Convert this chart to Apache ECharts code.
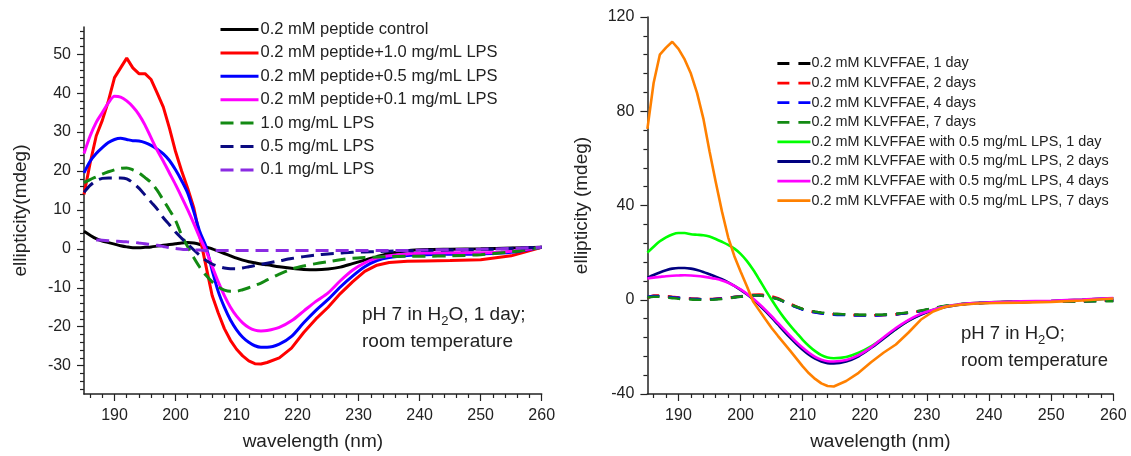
<!DOCTYPE html>
<html>
<head>
<meta charset="utf-8">
<script src="https://cdn.jsdelivr.net/npm/echarts@6/dist/echarts.min.js"></script>
<style>html,body{margin:0;padding:0;background:#fff}#c{width:1131px;height:456px}</style>
</head>
<body>
<div id="c"></div>
<script>
// ---------- DATA ----------
var wavelengths = [185,186,187,188,189,190,191,192,193,194,195,196,197,198,199,200,201,202,203,204,205,206,207,208,209,210,211,212,213,214,215,217,219,221,223,225,227,229,231,233,235,238,241,245,250,255,260];

// Left panel (1 day)
var leftNames = ['0.2 mM peptide control','0.2 mM peptide+1.0 mg/mL LPS','0.2 mM peptide+0.5 mg/mL LPS','0.2 mM peptide+0.1 mg/mL LPS','1.0 mg/mL LPS','0.5 mg/mL LPS','0.1 mg/mL LPS'];
var peptideControl = [4.5,3.5,2.6,2.0,1.6,1.2,0.8,0.5,0.3,0.3,0.4,0.5,0.7,0.9,1.1,1.3,1.5,1.6,1.5,1.1,0.5,0.0,-0.6,-1.2,-1.8,-2.4,-2.9,-3.3,-3.6,-3.9,-4.1,-4.6,-5.0,-5.3,-5.4,-5.2,-4.7,-3.8,-2.9,-2.0,-1.2,-0.5,-0.2,-0.1,0.0,0.2,0.4];
var peptideLPS10 = [14,22,29,33,38,44,46.5,49,46.5,45,45,43.5,40,36.4,31,25,20,15.5,10.5,3,-4.5,-12,-16.5,-20.5,-23.5,-25.8,-27.5,-28.8,-29.5,-29.6,-29.2,-28,-25.5,-21.5,-18,-15,-11.5,-8.5,-5.8,-4.2,-3.5,-3.2,-3.1,-3.0,-2.8,-1.8,0.4];
var peptideLPS05 = [19.5,22.5,24.5,26,27.3,28.1,28.4,28.1,27.8,27.7,27.3,26.6,25.6,24.4,22.7,20.3,17.5,14.3,9.5,4.3,0.5,-5.5,-11,-15,-18.3,-20.8,-22.7,-24,-24.9,-25.3,-25.3,-24.5,-22.5,-19,-15.8,-13,-9.8,-7,-4.6,-3,-2.2,-1.7,-1.5,-1.4,-1.3,-0.9,0.4];
var peptideLPS01 = [24.5,29,32.5,35,37.5,39.2,39,38,36.5,34.5,31.8,28.5,25.3,22.5,19.5,16.5,13.3,10,6.5,2.8,-0.5,-4.5,-8.5,-12,-15,-17.3,-19,-20.2,-20.9,-21.1,-21,-20.2,-18.5,-16,-13.5,-11.3,-8.2,-5.5,-3.6,-2.4,-1.8,-1.3,-1.1,-1.0,-1.0,-0.6,0.4];
var lps10 = [17,17.8,18.5,19.2,19.8,20.3,20.7,20.8,20.3,19.5,18.3,17,15,12.5,10,7.3,3.5,0.5,-2.3,-4.8,-6.8,-8.5,-9.8,-10.6,-10.9,-10.9,-10.5,-10,-9.4,-8.8,-8,-6.5,-5.2,-4.4,-3.8,-3.3,-2.8,-2.4,-2.2,-2.1,-2.0,-1.9,-1.9,-1.8,-1.5,-0.8,0.4];
var lps05 = [14.5,16.3,17.5,18.1,18.2,18.2,18.2,18,17,15.6,13.8,12,10.2,8,6.2,4.3,2.7,1.2,-0.3,-1.7,-3,-3.9,-4.5,-4.9,-5.1,-5.1,-4.9,-4.6,-4.3,-4,-3.7,-3.1,-2.5,-2,-1.6,-1.3,-1.1,-0.9,-0.8,-0.7,-0.6,-0.5,-0.4,-0.3,-0.2,0.1,0.4];
var lps01 = [null,null,2.3,2.2,2.1,2.0,1.9,1.8,1.7,1.5,1.3,1.1,0.9,0.6,0.3,0.1,-0.1,-0.2,-0.3,-0.3,-0.4,-0.4,-0.4,-0.4,-0.4,-0.4,-0.4,-0.4,-0.4,-0.4,-0.4,-0.4,-0.4,-0.4,-0.4,-0.4,-0.4,-0.4,-0.4,-0.4,-0.4,-0.4,-0.3,-0.2,-0.1,0.1,0.4];

// Right panel (time course)
var rightNames = ['0.2 mM KLVFFAE, 1 day','0.2 mM KLVFFAE, 2 days','0.2 mM KLVFFAE, 4 days','0.2 mM KLVFFAE, 7 days','0.2 mM KLVFFAE with 0.5 mg/mL LPS, 1 day','0.2 mM KLVFFAE with 0.5 mg/mL LPS, 2 days','0.2 mM KLVFFAE with 0.5 mg/mL LPS, 4 days','0.2 mM KLVFFAE with 0.5 mg/mL LPS, 7 days'];
var kl1 = [1.0,1.5,1.6,1.4,1.1,0.8,0.6,0.4,0.3,0.2,0.2,0.3,0.5,0.8,1.1,1.4,1.7,1.9,1.9,1.6,1.1,0.4,-0.8,-2.0,-3.1,-4.0,-4.6,-5.1,-5.5,-5.8,-6.0,-6.2,-6.4,-6.5,-6.4,-6.1,-5.5,-4.7,-3.7,-2.7,-2.0,-1.4,-1.1,-0.9,-0.8,-0.6,-0.4];
var kl2 = [0.7,1.8,1.8,1.5,1.2,0.9,0.7,0.5,0.4,0.3,0.3,0.4,0.6,0.9,1.2,1.5,1.8,2.1,2.2,2.0,1.4,0.6,-0.6,-1.8,-2.9,-3.9,-4.7,-5.3,-5.7,-6.0,-6.2,-6.4,-6.6,-6.6,-6.5,-6.2,-5.6,-4.8,-3.8,-2.8,-2.0,-1.4,-1.1,-0.9,-0.7,-0.5,-0.2];
var kl4 = [1.2,1.6,1.5,1.3,1.0,0.8,0.6,0.4,0.3,0.2,0.2,0.3,0.5,0.8,1.1,1.4,1.6,1.8,1.8,1.5,1.0,0.3,-0.9,-2.1,-3.2,-4.2,-4.9,-5.4,-5.8,-6.1,-6.3,-6.5,-6.7,-6.7,-6.5,-6.2,-5.6,-4.8,-3.8,-2.8,-2.0,-1.4,-1.1,-0.9,-0.8,-0.6,-0.4];
var kl7 = [1.0,1.3,1.3,1.0,0.7,0.4,0.2,0.1,0.0,0.0,0.0,0.1,0.3,0.6,1.0,1.3,1.6,1.8,1.8,1.5,1.0,0.3,-0.8,-2.0,-3.0,-3.9,-4.6,-5.1,-5.5,-5.8,-6.0,-6.2,-6.4,-6.4,-6.3,-6.0,-5.4,-4.6,-3.6,-2.6,-1.9,-1.4,-1.1,-0.9,-0.8,-0.7,-0.6];
var klLPS1 = [20,22.5,24.8,26.5,27.7,28.3,28.3,27.8,27.6,27.4,26.8,25.8,24.6,23.3,21.7,19.5,16.5,12.8,8.6,4.2,0,-4,-7.7,-11,-14,-17,-19.6,-21.8,-23.5,-24.5,-24.8,-24.3,-22.5,-19.8,-16.3,-12.5,-9,-6.2,-4.2,-2.8,-2.0,-1.3,-1.0,-0.8,-0.5,0.0,0.6];
var klLPS2 = [9.3,10.5,11.6,12.5,13.2,13.5,13.5,13.2,12.6,11.8,10.8,9.8,8.7,7.4,5.9,4.2,2.3,0.2,-2.2,-4.8,-7.6,-10.5,-13.4,-16.2,-18.8,-21.2,-23.3,-25,-26.2,-26.9,-27,-26.2,-24,-20.5,-16.5,-12.5,-9,-6.4,-4.5,-3.1,-2.2,-1.5,-1.1,-0.8,-0.5,0.0,0.6];
var klLPS4 = [9,9.4,9.7,10,10.2,10.3,10.4,10.3,10.1,9.8,9.4,8.9,8.2,7.2,5.9,4.4,2.6,0.5,-1.8,-4.3,-7,-9.8,-12.6,-15.3,-18,-20.4,-22.5,-24.2,-25.4,-26.1,-26.2,-25.6,-23.5,-20.2,-16,-12,-8.6,-6,-4.2,-2.9,-2.0,-1.3,-1.0,-0.7,-0.4,0.1,0.7];
var klLPS7 = [72.5,92,104,107,109.5,106.5,102,96,87.7,77,63,50,37.5,26.5,18.5,12,5.8,-0.6,-4.5,-8.3,-12,-15.3,-18.5,-21.7,-25,-28.3,-31.2,-33.6,-35.5,-36.6,-36.8,-34.5,-31,-26.5,-22.5,-19,-14,-8.5,-5,-3,-2.2,-1.6,-1.4,-1.2,-0.9,-0.3,0.5];

// Tick labels
var xTickLabels = [190,200,210,220,230,240,250,260];
var leftYTickLabels = [-30,-20,-10,0,10,20,30,40,50];
var rightYTickLabels = [-40,0,40,80,120];

// ---------- CHART ----------
function pairs(xs, ys){ var out=[]; for(var i=0;i<xs.length;i++){ out.push([xs[i], ys[i]]); } return out; }
function minorTicks(lo, hi, step, major){ var out=[]; for(var v=lo; v<=hi+1e-9; v+=step){ var r=Math.round(v*100)/100; if(major.indexOf(r)<0) out.push(r);} return out; }

var FONT = '"Liberation Sans", Arial, sans-serif';
var TXT = '#222';
var AXC = '#222';

var xMinor = minorTicks(186, 258, 2, xTickLabels);
var lyMinor = minorTicks(-36, 56, 2, leftYTickLabels);
var ryMinor = minorTicks(-32, 112, 8, rightYTickLabels);

function xAxes(grid){
  return [{
    gridIndex: grid, type: 'value', min: 185, max: 260,
    name: 'wavelength (nm)', nameLocation: 'middle', nameGap: 38,
    nameTextStyle: {fontSize: 19, color: TXT, fontFamily: FONT},
    axisLine: {onZero: false, lineStyle: {color: AXC, width: 1.5}},
    axisTick: {customValues: xTickLabels, length: 7, lineStyle: {color: AXC, width: 1.2}},
    axisLabel: {customValues: xTickLabels, fontSize: 16, color: TXT, fontFamily: FONT, margin: 14},
    splitLine: {show: false}
  },{
    gridIndex: grid, type: 'value', min: 185, max: 260, position: 'bottom',
    axisLine: {show: false, onZero: false},
    axisTick: {customValues: xMinor, length: 4, lineStyle: {color: AXC, width: 1.2}},
    axisLabel: {show: false}, splitLine: {show: false}
  }];
}
function yAxes(grid, min, max, major, minor, name, gap){
  return [{
    gridIndex: grid, type: 'value', min: min, max: max,
    name: name, nameLocation: 'middle', nameGap: gap,
    nameTextStyle: {fontSize: 19, color: TXT, fontFamily: FONT},
    axisLine: {onZero: false, lineStyle: {color: AXC, width: 1.5}},
    axisTick: {customValues: major, length: 7, lineStyle: {color: AXC, width: 1.2}},
    axisLabel: {customValues: major, fontSize: 16, color: TXT, fontFamily: FONT, margin: 13},
    splitLine: {show: false}
  },{
    gridIndex: grid, type: 'value', min: min, max: max, position: 'left',
    axisLine: {show: false, onZero: false},
    axisTick: {customValues: minor, length: 4, lineStyle: {color: AXC, width: 1.2}},
    axisLabel: {show: false}, splitLine: {show: false}
  }];
}

function line(name, ys, color, dashed, xi, smooth, width, dash){
  return {
    name: name, type: 'line', xAxisIndex: xi, yAxisIndex: xi,
    data: pairs(wavelengths, ys), symbol: 'none', showSymbol: false,
    smooth: smooth, connectNulls: false,
    lineStyle: {color: color, width: width, type: dashed ? dash : 'solid'},
    itemStyle: {color: color}, z: 3
  };
}

var leftColors = ['#000000','#ff0000','#0000ff','#ff00ff','#138a13','#0a0a80','#8a2be2'];
var leftData = [peptideControl, peptideLPS10, peptideLPS05, peptideLPS01, lps10, lps05, lps01];
var rightColors = ['#000000','#ff0000','#0000ff','#138a13','#00ff00','#000080','#ff00ff','#ff8000'];
var rightData = [kl1, kl2, kl4, kl7, klLPS1, klLPS2, klLPS4, klLPS7];

var series = [];
for (var i=0;i<leftNames.length;i++){
  series.push(line(leftNames[i], leftData[i], leftColors[i], i>=4, 0, i===1 ? false : 0.3, 3, [13,7]));
}
for (var j=0;j<rightNames.length;j++){
  series.push(line(rightNames[j], rightData[j], rightColors[j], j<4, 2, j===7 ? false : 0.3, 2.6, [12,9]));
}

var option = {
  animation: false,
  backgroundColor: '#fff',
  textStyle: {fontFamily: FONT},
  grid: [
    {left: 84, top: 27, width: 457.7, height: 368.5, containLabel: false},
    {left: 647.4, top: 17, width: 465.9, height: 377.3, containLabel: false}
  ],
  xAxis: xAxes(0).concat(xAxes(1)),
  yAxis: yAxes(0, -37.3, 57, leftYTickLabels, lyMinor, 'ellipticity(mdeg)', 54)
        .concat(yAxes(1, -40, 120, rightYTickLabels, ryMinor, 'ellipticity (mdeg)', 56)),
  legend: [{
    data: leftNames, orient: 'vertical', left: 219, top: 21, padding: 0,
    itemWidth: 38, itemHeight: 14, itemGap: 6.4,
    itemStyle: {opacity: 0, color: 'rgba(0,0,0,0)', borderWidth: 0},
    lineStyle: {width: 3},
    textStyle: {fontSize: 16.5, color: TXT, fontFamily: FONT, padding: [0,0,0,-3]}
  },{
    data: rightNames, orient: 'vertical', left: 776, top: 56.5, padding: 0,
    itemWidth: 33, itemHeight: 12, itemGap: 5.6,
    itemStyle: {opacity: 0, color: 'rgba(0,0,0,0)', borderWidth: 0},
    lineStyle: {width: 2.8},
    textStyle: {fontSize: 14.4, color: TXT, fontFamily: FONT, padding: [0,0,0,-4]}
  }],
  graphic: [{
    type: 'text', left: 362, top: 305,
    style: {
      text: '{a|pH 7 in H}{s|2}{a|O, 1 day;}\n{a|room temperature}',
      rich: {
        a: {fontSize: 19, fontFamily: FONT, fill: TXT, lineHeight: 27},
        s: {fontSize: 13, fontFamily: FONT, fill: TXT, lineHeight: 18, verticalAlign: 'bottom'}
      }
    }
  },{
    type: 'text', left: 961, top: 324,
    style: {
      text: '{a|pH 7 in H}{s|2}{a|O;}\n{a|room temperature}',
      rich: {
        a: {fontSize: 18.5, fontFamily: FONT, fill: TXT, lineHeight: 27.7},
        s: {fontSize: 13, fontFamily: FONT, fill: TXT, lineHeight: 18, verticalAlign: 'bottom'}
      }
    }
  }],
  series: series
};

var chart = echarts.init(document.getElementById('c'), null, {renderer: 'canvas'});
chart.setOption(option);
</script>
</body>
</html>
